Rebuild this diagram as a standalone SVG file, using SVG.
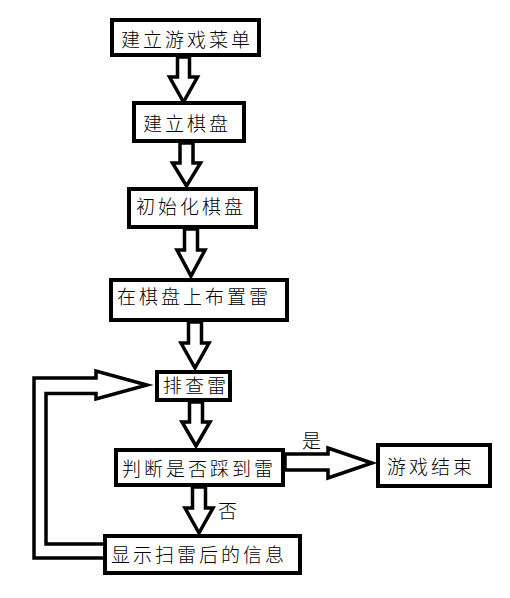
<svg xmlns="http://www.w3.org/2000/svg" width="510" height="598" viewBox="0 0 510 598">
<style>
.box{fill:#fff;stroke:#000;stroke-width:4}
.arr{fill:#fff;stroke:#000;stroke-width:3.5;stroke-linejoin:miter}
.ln{fill:none;stroke:#000;stroke-width:3.5;stroke-linejoin:miter}
text{font-family:"Noto Sans CJK SC","Noto Sans",sans-serif;font-size:19px;font-weight:300;letter-spacing:3px;fill:#000}
</style>
<rect width="510" height="598" fill="#fff"/>
<g id="connectors">
<polygon class="arr" points="177.5,57 189.5,57 189.5,77 197.5,77 183.5,102 169.5,77 177.5,77"/>
<polygon class="arr" points="180,143 193,143 193,163 200.5,163 186.5,186 172.5,163 180,163"/>
<polygon class="arr" points="184.5,229 197.5,229 197.5,250 205,250 191,276 177,250 184.5,250"/>
<polygon class="arr" points="188.5,322 201.5,322 201.5,343 209,343 195,368 181,343 188.5,343"/>
<polygon class="arr" points="189.5,402 202.5,402 202.5,422 210,422 196,446 182,422 189.5,422"/>
<polygon class="arr" points="192.5,487 205.5,487 205.5,508 213,508 199,533 185,508 192.5,508"/>
<polygon class="arr" points="285,454 328,454 328,448 372,463 328,478 328,470 285,470"/>
<polyline class="ln" points="105,544 46,544 46,393.5 96,393.5 96,399 147,385 96,371 96,378 34,378 34,558 105,558"/>
</g>
<g id="n1"><rect class="box" x="112" y="20" width="147" height="35"/><text x="121" y="47">建立游戏菜单</text></g>
<g id="n2"><rect class="box" x="134" y="103" width="110" height="38"/><text x="143" y="131">建立棋盘</text></g>
<g id="n3"><rect class="box" x="129" y="189" width="127" height="38"/><text x="136" y="214">初始化棋盘</text></g>
<g id="n4"><rect class="box" x="111" y="280" width="176" height="40"/><text x="117" y="304">在棋盘上布置雷</text></g>
<g id="n5"><rect class="box" x="157" y="372" width="73" height="28"/><text x="163" y="393">排查雷</text></g>
<g id="n6"><rect class="box" x="116" y="450" width="167" height="35"/><text x="122" y="476">判断是否踩到雷</text></g>
<g id="n7"><rect class="box" x="378" y="445" width="112" height="41"/><text x="387" y="474">游戏结束</text></g>
<g id="n8"><rect class="box" x="105" y="536" width="195" height="37"/><text x="111" y="562">显示扫雷后的信息</text></g>
<g id="labels"><text x="302" y="448">是</text><text x="218" y="518">否</text></g>
</svg>
